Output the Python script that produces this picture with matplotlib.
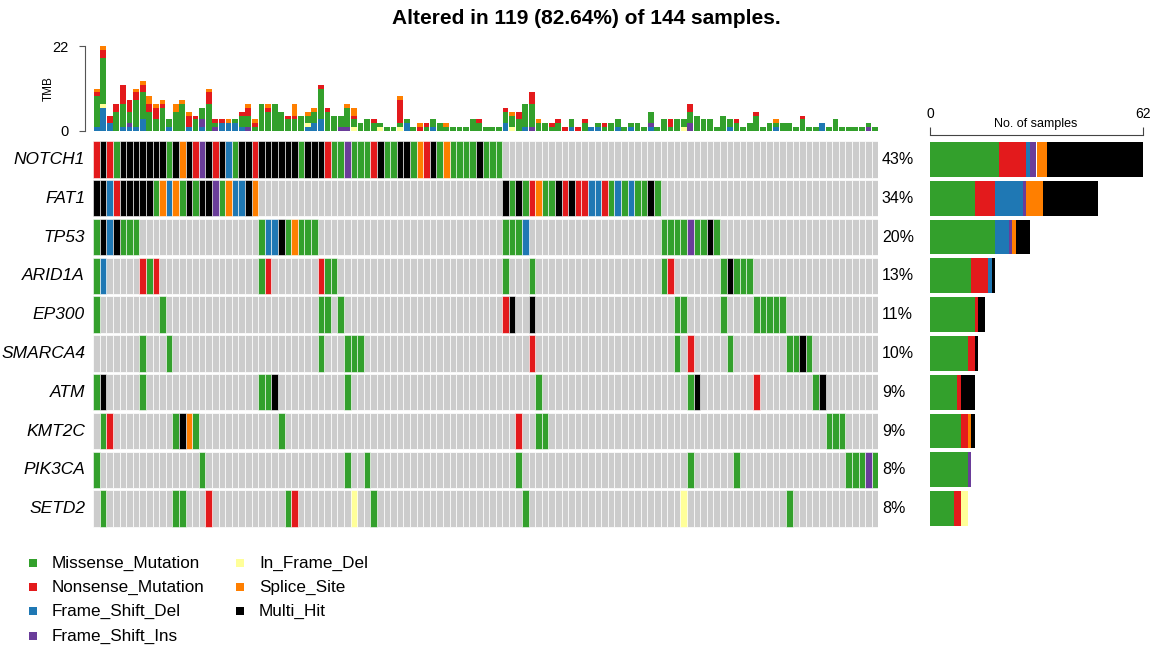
import matplotlib
matplotlib.use("Agg")
import matplotlib.pyplot as plt
import numpy as np

plt.rcParams['font.family'] = ['Liberation Sans', 'DejaVu Sans']

W, H = 1158, 647

total_samples = 144
altered_samples = 119

genes = ["NOTCH1", "FAT1", "TP53", "ARID1A", "EP300", "SMARCA4", "ATM", "KMT2C", "PIK3CA", "SETD2"]

# one character per altered sample (119 columns), spaces only split the row in chunks of 10
# M missense, N nonsense, D frame shift del, I frame shift ins, F in frame del, S splice site, X multi hit
onco_rows = [
    "NXNMXXXXXX XMXSXNIXNX DMXXNXXXXX XMXXXNMMIM MMNXMMXXMS NXMSMMMMXM MM........ .......... .......... .......... .......... .........",
    "XXDNXXXXXM SDSMXMXXIM SDDXS..... .......... .......... .......... ..XMXMNSMM XNXNNDDNMD MDMMXM.... .......... .......... .........",
    "MXDXMMM... .......... .....MDDXM SMMM...... .......... .......... ..MMMD.... .......... ......MMMM IMMXM..... .......... .........",
    "MD.....NMN .......... .....MN... ....NMM... .......... .......... ..M...M... .......... ......MN.. .....MXMMM .......... .........",
    "M......... M......... .......... ....MM.M.. .......... .......... ..NX..X... .......... ........MM .....M.... MMMMM..... .........",
    ".......M.. .M........ .......... ....M...MM M......... .......... ......N... .......... ........M. N.....M... .....MMXM. .........",
    "MX.....M.. .......... .....MMX.. ........M. .......... .......... .......M.. .......... .......... MX........ N........M X........",
    ".MN....... ..MXSM.... ........M. .......... .......... .......... ....N..MM. .......... .......... .......... .......... .MMM.....",
    "M......... ......M... .......... ........M. .M........ .......... ....M..... .......... .......... M......M.. .......... ....MMMIM",
    ".M........ ..MM...N.. .........M N........F ..M....... .......... .....M.... .......... .........F .......... .....M.... .........",
]

# TMB per sample, split by variant class (columns in the same order as the matrix)
tmb_frame_shift_del = [1, 6, 2, 0, 1, 1, 1, 3, 0, 0,
                       0, 1, 0, 0, 1, 0, 1, 0, 0, 2,
                       2, 2, 1, 0, 0, 0, 0, 0, 0, 0,
                       0, 0, 1, 2, 3, 0, 0, 0, 0, 0,
                       0, 0, 0, 0, 0, 0, 0, 2, 0, 0,
                       0, 1, 0, 0, 0, 0, 0, 0, 0, 0,
                       0, 0, 2, 0, 0, 1, 0, 0, 0, 0,
                       0, 0, 1, 0, 0, 1, 1, 0, 0, 1,
                       0, 1, 0, 0, 1, 0, 0, 0, 0, 0,
                       0, 0, 0, 0, 0, 0, 1, 0, 0, 0,
                       0, 0, 0, 1, 0, 0, 0, 0, 0, 0,
                       2, 0, 0, 0, 0, 0, 0, 0, 0]
tmb_frame_shift_ins = [0, 0, 0, 0, 0, 1, 0, 0, 0, 0,
                       0, 0, 0, 0, 0, 0, 2, 0, 1, 0,
                       0, 0, 0, 1, 0, 0, 0, 0, 0, 0,
                       0, 0, 0, 0, 0, 0, 0, 1, 1, 0,
                       0, 0, 0, 0, 0, 0, 0, 0, 0, 0,
                       0, 0, 0, 0, 0, 0, 0, 0, 0, 0,
                       0, 0, 0, 0, 0, 0, 1, 0, 0, 0,
                       0, 0, 0, 0, 0, 0, 0, 0, 0, 0,
                       0, 0, 0, 0, 1, 0, 0, 0, 0, 0,
                       2, 0, 0, 0, 0, 0, 0, 0, 0, 0,
                       0, 0, 0, 0, 0, 0, 0, 0, 0, 0,
                       0, 0, 0, 0, 0, 0, 0, 1, 0]
tmb_in_frame_del = [0, 1, 0, 0, 0, 0, 0, 0, 0, 0,
                    0, 0, 0, 0, 0, 0, 0, 0, 0, 0,
                    0, 0, 0, 0, 0, 0, 0, 0, 0, 0,
                    0, 0, 1, 0, 0, 0, 0, 0, 0, 1,
                    0, 0, 0, 1, 0, 0, 1, 0, 0, 0,
                    0, 0, 0, 0, 0, 0, 0, 0, 0, 0,
                    0, 0, 0, 1, 0, 0, 0, 0, 0, 0,
                    0, 0, 0, 0, 0, 0, 0, 0, 0, 0,
                    0, 0, 0, 0, 0, 0, 0, 0, 0, 1,
                    0, 0, 0, 0, 0, 0, 0, 0, 0, 0,
                    0, 0, 0, 0, 0, 0, 0, 0, 0, 0,
                    0, 0, 0, 0, 0, 0, 0, 0, 0]
tmb_missense = [8, 12, 0, 5, 6, 3, 7, 7, 5, 3,
                6, 2, 5, 7, 0, 3, 3, 7, 1, 0,
                0, 1, 3, 3, 1, 7, 5, 7, 5, 3,
                3, 4, 2, 3, 8, 5, 4, 3, 5, 2,
                2, 3, 2, 1, 1, 1, 1, 1, 1, 0,
                1, 2, 2, 1, 1, 1, 1, 3, 2, 1,
                1, 1, 3, 3, 3, 6, 6, 2, 2, 1,
                2, 0, 2, 0, 2, 0, 1, 1, 2, 2,
                1, 1, 2, 1, 3, 1, 3, 1, 3, 2,
                3, 4, 3, 3, 1, 4, 2, 2, 1, 2,
                4, 1, 2, 1, 2, 2, 1, 3, 1, 1,
                0, 1, 3, 1, 1, 1, 1, 1, 1]
tmb_nonsense = [1, 2, 2, 2, 5, 3, 2, 2, 2, 3,
                1, 0, 0, 0, 3, 1, 0, 3, 1, 1,
                0, 0, 1, 2, 1, 0, 1, 0, 0, 1,
                1, 0, 0, 0, 1, 1, 0, 0, 0, 1,
                0, 0, 1, 0, 0, 0, 6, 0, 0, 1,
                1, 0, 0, 0, 0, 0, 0, 0, 1, 0,
                0, 0, 1, 0, 2, 0, 3, 0, 0, 1,
                1, 1, 0, 1, 1, 0, 0, 1, 0, 0,
                0, 0, 0, 0, 0, 0, 0, 2, 0, 0,
                2, 0, 0, 0, 0, 0, 0, 1, 0, 0,
                1, 0, 0, 0, 0, 0, 0, 1, 0, 0,
                0, 0, 0, 0, 0, 0, 0, 0, 0]
tmb_splice = [1, 1, 0, 0, 0, 0, 1, 1, 2, 1,
              1, 0, 2, 1, 1, 0, 0, 1, 0, 0,
              1, 0, 0, 1, 1, 0, 1, 0, 0, 0,
              3, 0, 1, 1, 0, 0, 0, 0, 1, 2,
              0, 0, 0, 0, 0, 0, 1, 0, 0, 1,
              0, 0, 0, 1, 0, 0, 0, 0, 0, 0,
              0, 0, 0, 1, 0, 0, 0, 1, 0, 0,
              0, 0, 0, 0, 0, 0, 0, 0, 0, 0,
              0, 0, 0, 0, 0, 0, 0, 0, 0, 0,
              0, 0, 0, 0, 0, 0, 0, 0, 0, 0,
              0, 0, 0, 1, 0, 0, 0, 0, 0, 0,
              0, 0, 0, 0, 0, 0, 0, 0, 0]

classes = ["Missense_Mutation", "Nonsense_Mutation", "Frame_Shift_Del", "Frame_Shift_Ins",
           "In_Frame_Del", "Splice_Site", "Multi_Hit"]
codes = ["M", "N", "D", "I", "F", "S", "X"]
colors = ["#33A02C", "#E31A1C", "#1F78B4", "#6A3D9A", "#FFFF99", "#FF7F00", "#000000"]
col_of = dict(zip(codes, colors))

rows = [r.replace(" ", "") for r in onco_rows]
n_cols = len(rows[0])


def px_rect(x, y, w, h):
    return [x / W, 1 - (y + h) / H, w / W, h / H]


fig = plt.figure(figsize=(W / 100, H / 100), dpi=100)

fig.text(586 / W, 1 - 18 / H,
         "Altered in %d (%.2f%%) of %d samples." % (altered_samples, 100 * altered_samples / total_samples, total_samples),
         ha="center", va="center", fontsize=15, fontweight="bold")

# oncoprint matrix
ax = fig.add_axes(px_rect(93.3, 140, 785, 388))
x = np.arange(n_cols)
for i, row in enumerate(rows):
    ax.bar(x, 0.94, bottom=i + 0.03, width=1, align="edge", color="#CCCCCC",
           edgecolor="white", linewidth=0.5)
    for code in codes:
        idx = [j for j, c in enumerate(row) if c == code]
        if idx:
            ax.bar(idx, 0.94, bottom=i + 0.03, width=1, align="edge", color=col_of[code],
                   edgecolor="white", linewidth=0.4)
    n_alt = sum(c != "." for c in row)
    ax.text(-1.25, i + 0.5, genes[i], ha="right", va="center", fontsize=12.5, style="italic")
    ax.text(n_cols + 0.55, i + 0.5, "%d%%" % round(100 * n_alt / total_samples),
            ha="left", va="center", fontsize=11.5)
ax.set_xlim(0, n_cols)
ax.set_ylim(len(rows), 0)
ax.axis("off")

# TMB barplot on top
axt = fig.add_axes(px_rect(93.3, 46, 785, 85))
bottom = np.zeros(n_cols)
tmb_stack = [("D", tmb_frame_shift_del), ("I", tmb_frame_shift_ins), ("F", tmb_in_frame_del),
             ("M", tmb_missense), ("N", tmb_nonsense), ("S", tmb_splice)]
for code, vals in tmb_stack:
    vals = np.array(vals)
    axt.bar(x + 0.5, vals, bottom=bottom, width=0.88, color=col_of[code], linewidth=0)
    bottom += vals
axt.set_xlim(0, n_cols)
axt.set_ylim(0, 22)
for s in ["top", "right", "bottom"]:
    axt.spines[s].set_visible(False)
axt.spines["left"].set_position(("outward", 6))
axt.spines["left"].set_bounds(0, 22)
axt.spines["left"].set_color("#555555")
axt.set_xticks([])
axt.set_yticks([0, 22])
axt.tick_params(axis="y", labelsize=10.5, length=4, color="#555555", pad=8)
axt.set_ylabel("TMB", fontsize=8.5)
axt.yaxis.set_label_coords(-0.049, 0.5)

# per gene counts on the right
axs = fig.add_axes(px_rect(930, 140, 213, 388))
for i, row in enumerate(rows):
    left = 0
    for code in codes:
        n = row.count(code)
        if n:
            axs.barh(i + 0.5, n, left=left, height=0.9, color=col_of[code], linewidth=0)
            left += n
axs.set_xlim(0, 62)
axs.set_ylim(len(rows), 0)
for s in ["bottom", "right", "left"]:
    axs.spines[s].set_visible(False)
axs.spines["top"].set_position(("outward", 3.5))
axs.spines["top"].set_bounds(0, 62)
axs.spines["top"].set_color("#444444")
axs.xaxis.tick_top()
axs.set_xticks([0, 62])
axs.tick_params(axis="x", labelsize=10, length=6, color="#444444", pad=4)
axs.set_yticks([])
fig.text(1036 / W, 1 - 124 / H, "No. of samples", ha="center", va="center", fontsize=9)

# legend
axl = fig.add_axes(px_rect(0, 545, 420, 102))
axl.set_xlim(0, 420)
axl.set_ylim(102, 0)
axl.axis("off")
leg_pos = [(33, 18), (33, 42), (33, 66), (33, 91), (240, 18), (240, 42), (240, 66)]
for (lx, ly), name, color in zip(leg_pos, classes, colors):
    axl.scatter([lx], [ly], marker="s", s=30, color=color, linewidths=0)
    axl.text(lx + 19, ly, name, ha="left", va="center", fontsize=12.3)

fig.savefig("out.png", dpi=100)
